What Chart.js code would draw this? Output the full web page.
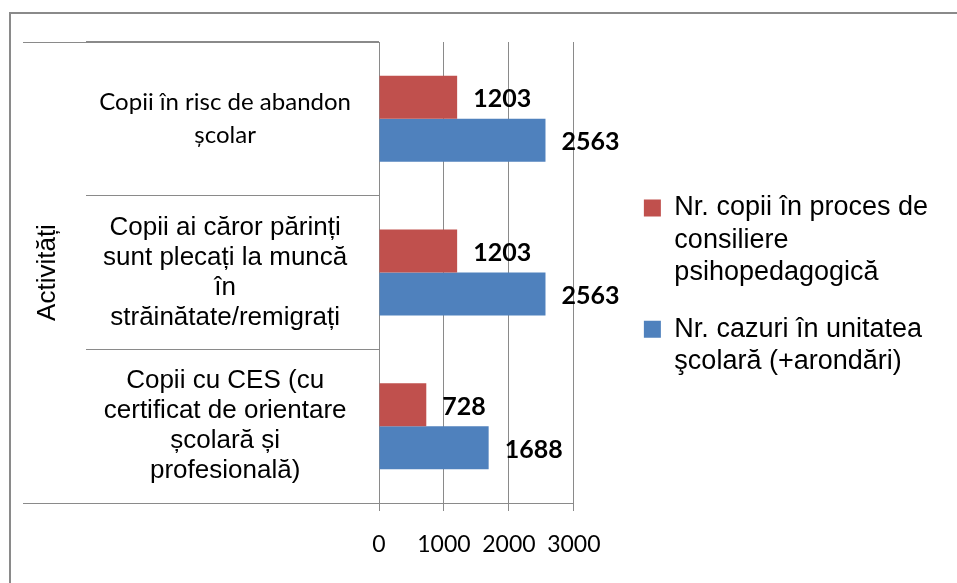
<!DOCTYPE html>
<html>
<head>
<meta charset="utf-8">
<script src="https://cdn.jsdelivr.net/npm/chart.js@4.4.0/dist/chart.umd.min.js"></script>
<style>
    html, body { margin: 0; padding: 0; background: #fff; }
    #wrap { position: relative; width: 957px; height: 583px; overflow: hidden; }
    #frame { position: absolute; left: 9px; top: 12px; width: 1000px; height: 1000px; border-left: 2px solid #8a8a8a; border-top: 2px solid #8a8a8a; }
    canvas { position: absolute; left: 0; top: 0; }
</style>
</head>
<body>
<div id="wrap">
    <div id="frame"></div>
    <canvas id="chart" width="957" height="583"></canvas>
</div>
<script>
const categories = [
    ['Copii în risc de abandon', 'școlar'],
    ['Copii ai căror părinți', 'sunt plecați la muncă', 'în', 'străinătate/remigrați'],
    ['Copii cu CES (cu', 'certificat de orientare', 'școlară și', 'profesională)']
];
const seriesNames = [
    ['Nr. copii în proces de', 'consiliere', 'psihopedagogică'],
    ['Nr. cazuri în unitatea', 'şcolară (+arondări)']
];
const consiliere = [1203, 1203, 728];
const cazuri = [2563, 2563, 1688];
const xTicks = [0, 1000, 2000, 3000];
const axisTitle = 'Activități';

const gridColor = '#8a8a8a';

// value labels right of each bar
const barLabels = {
    id: 'barLabels',
    afterDatasetsDraw(chart) {
        const ctx = chart.ctx;
        ctx.save();
        ctx.font = 'bold 25px Lato';
        ctx.fillStyle = '#000';
        ctx.textBaseline = 'middle';
        chart.data.datasets.forEach((ds, i) => {
            chart.getDatasetMeta(i).data.forEach((bar, j) => {
                ctx.fillText(ds.data[j], bar.x + 16, bar.y + 2);
            });
        });
        ctx.restore();
    }
};

// top and bottom lines of the label "table" go further left
const tableLines = {
    id: 'tableLines',
    afterDraw(chart) {
        const { ctx, chartArea } = chart;
        ctx.save();
        ctx.strokeStyle = gridColor;
        ctx.lineWidth = 1;
        [chartArea.top, chartArea.bottom].forEach(y => {
            ctx.beginPath();
            ctx.moveTo(23, Math.round(y) + 0.5);
            ctx.lineTo(chartArea.left, Math.round(y) + 0.5);
            ctx.stroke();
        });
        ctx.restore();
    }
};

const ctx = document.getElementById('chart').getContext('2d');

new Chart(ctx, {
    type: 'bar',
    data: {
        labels: categories,
        datasets: [{
            label: seriesNames[0],
            data: consiliere,
            backgroundColor: '#C0504D'
        }, {
            label: seriesNames[1],
            data: cazuri,
            backgroundColor: '#4F81BD'
        }]
    },
    options: {
        indexAxis: 'y',
        responsive: false,
        animation: false,
        categoryPercentage: 0.56,
        barPercentage: 1,
        layout: { padding: { left: 20, top: 42, right: 19, bottom: 20 } },
        plugins: {
            tooltip: { enabled: false },
            legend: {
                position: 'right',
                fullSize: false,
                maxWidth: 400,
                // empty title only used as a spacer above the items
                title: { display: true, text: '', font: { size: 10, lineHeight: 1 }, padding: { top: 20, bottom: 0 } },
                labels: {
                    boxWidth: 17,
                    boxHeight: 17,
                    padding: 24,
                    color: '#000',
                    font: { family: 'Liberation Sans', size: 27, lineHeight: 1.2 },
                    generateLabels(chart) {
                        return chart.data.datasets.map((ds, i) => ({
                            text: ds.label,
                            fillStyle: ds.backgroundColor,
                            strokeStyle: ds.backgroundColor,
                            fontColor: '#000',
                            lineWidth: 0,
                            datasetIndex: i
                        }));
                    }
                }
            }
        },
        scales: {
            x: {
                min: 0,
                max: 3000,
                afterFit(scale) { scale.height = 60; },
                afterBuildTicks(scale) { scale.ticks = xTicks.map(v => ({ value: v })); },
                grid: { color: gridColor, tickLength: 8 },
                border: { color: gridColor },
                ticks: {
                    color: '#000',
                    font: { family: 'Lato', size: 23 },
                    padding: 20,
                    maxRotation: 0,
                    autoSkip: false,
                    callback: v => String(v)
                }
            },
            y: {
                afterFit(scale) { scale.width = 359; },
                grid: { drawOnChartArea: false, tickLength: 293, color: gridColor, offset: true },
                border: { color: gridColor },
                ticks: {
                    crossAlign: 'center',
                    padding: -265,
                    autoSkip: false,
                    color: '#000',
                    font: c => c.index === 0
                        ? { family: 'Lato', size: 24, lineHeight: 1.38 }
                        : { family: 'Liberation Sans', size: 26, lineHeight: 1.15 }
                },
                title: {
                    display: true,
                    text: axisTitle,
                    color: '#000',
                    font: { family: 'Liberation Sans', size: 26 },
                    padding: { top: 12, bottom: 0 }
                }
            },
            gap: {
                type: 'category',
                axis: 'y',
                position: 'right',
                afterFit(scale) { scale.width = 46; },
                grid: { display: false },
                border: { display: false },
                ticks: { display: false }
            }
        }
    },
    plugins: [barLabels, tableLines]
});
</script>
</body>
</html>
